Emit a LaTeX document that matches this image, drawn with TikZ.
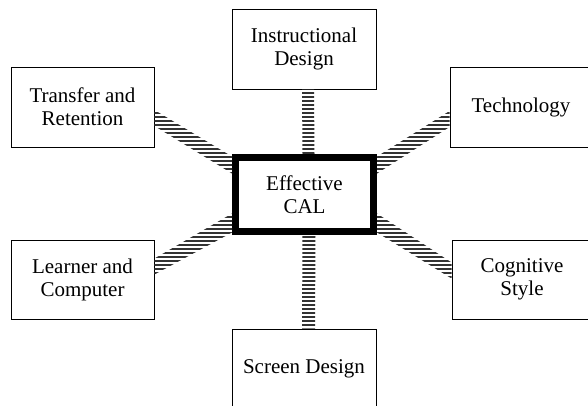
\documentclass[tikz,border=0pt]{standalone}
\usepackage{fontspec}
\setmainfont{Liberation Serif}
\usetikzlibrary{calc}
\tikzset{
  box/.style={draw=black, line width=0.9pt, align=center, inner sep=0pt,
    font=\fontsize{21}{23}\selectfont},
  core/.style={draw=black, line width=7pt, align=center, inner sep=0pt,
    font=\fontsize{21}{23}\selectfont},
  stripe/.style={draw=black!80, line width=1.2pt}
}
\newcommand{\stripesin}[1]{%
  \begin{scope}
    \clip #1;
    \foreach \yy in {1,5,...,405} \draw[stripe] (0,\yy) -- (588,\yy);
  \end{scope}}
\begin{document}
\begin{tikzpicture}[x=1pt,y=-1pt]
\useasboundingbox (0,0) rectangle (588,405);
\clip (0,0) rectangle (588,405);
\fill[white] (0,0) rectangle (588,405);
% nodes
\node[core, minimum width=138pt, minimum height=74pt] (cal) at (304.5,194.5) {Effective\\CAL};
\node[box, minimum width=144pt, minimum height=80pt] (id) at (304,49) {Instructional\\Design};
\node[box, minimum width=143pt, minimum height=80pt] (tr) at (82.5,107) {Transfer and\\Retention};
\node[box, minimum width=142pt, minimum height=80pt] (te) at (521,107) {Technology};
\node[box, minimum width=143pt, minimum height=79pt] (lc) at (82.5,279.5) {Learner and\\Computer};
\node[box, minimum width=140pt, minimum height=79pt] (cs) at (522,279.5) {Cognitive\\Style};
\node[box, minimum width=144pt, minimum height=80pt] (sd) at (304,369) {Screen Design};
% hatched connectors
\stripesin{($(id.south)+(-2,0)$) -- ($(id.south)+(10,0)$) -- ($(cal.north)+(10,0)$) -- ($(cal.north)+(-2,0)$) -- cycle}
\stripesin{($(cal.south)+(-2,0)$) -- ($(cal.south)+(11,0)$) -- ($(sd.north)+(11,0)$) -- ($(sd.north)+(-2,0)$) -- cycle}
\stripesin{($(tr.east)+(0,3)$) -- ($(tr.east)+(0,19)$) -- ($(cal.west)+(0,-21)$) -- ($(cal.west)+(0,-38)$) -- cycle}
\stripesin{($(cal.east)+(0,-38)$) -- ($(cal.east)+(0,-21)$) -- ($(te.west)+(0,20)$) -- ($(te.west)+(0,4)$) -- cycle}
\stripesin{($(lc.east)+(0,-21)$) -- ($(lc.east)+(0,-5)$) -- ($(cal.west)+(0,38)$) -- ($(cal.west)+(0,19)$) -- cycle}
\stripesin{($(cal.east)+(0,19)$) -- ($(cal.east)+(0,38)$) -- ($(cs.west)+(0,-1)$) -- ($(cs.west)+(0,-17)$) -- cycle}
\end{tikzpicture}
\end{document}
